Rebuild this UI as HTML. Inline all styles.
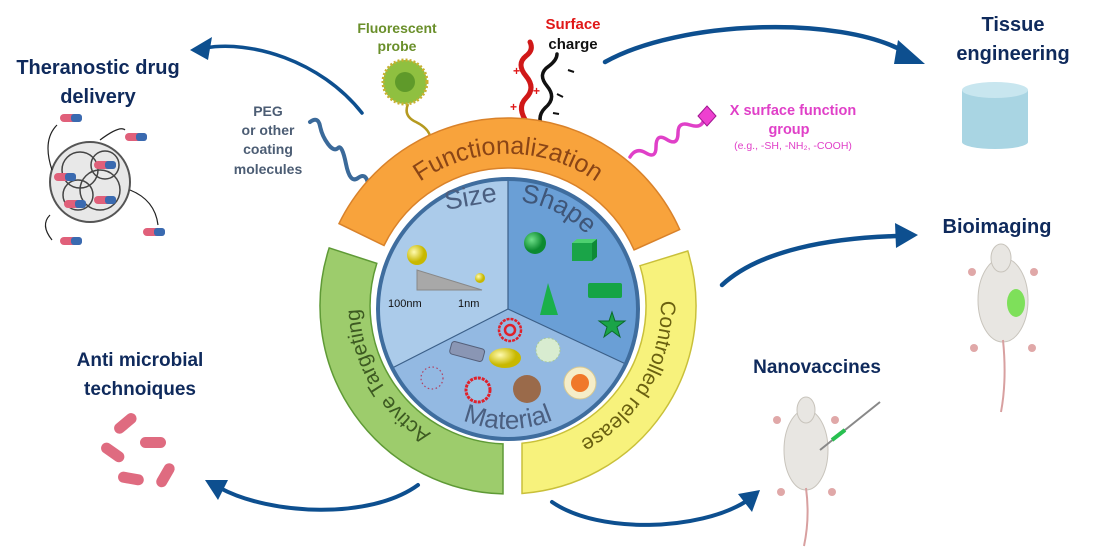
<!DOCTYPE html>
<html><head><meta charset="utf-8"><style>
html,body{margin:0;padding:0;background:#fff;}
svg{display:block;}
.lab{font-family:"Liberation Sans",sans-serif;font-weight:bold;fill:#0f2a5c;}
.com{font-family:"Liberation Sans",sans-serif;font-weight:bold;}
</style></head><body>
<svg width="1100" height="560" viewBox="0 0 1100 560" xmlns="http://www.w3.org/2000/svg">
<defs>
<path id="pF" d="M365.1,254 A152 152 0 0 1 650.9,254"/>
<path id="pA" d="M494.9,455.4 A153 153 0 0 1 372.1,242.6"/>
<path id="pC" d="M646.6,241.3 A153 153 0 0 1 521.3,458.4"/>
<path id="pS" d="M517.4,201.4 A108 108 0 0 1 615.6,318.4"/>
<path id="pM" d="M404.1,369 A120 120 0 0 0 611.9,369"/>
<radialGradient id="gy" cx="0.35" cy="0.35"><stop offset="0" stop-color="#fffbb0"/><stop offset="1" stop-color="#c8b800"/></radialGradient>
<radialGradient id="gg" cx="0.35" cy="0.35"><stop offset="0" stop-color="#6fe08a"/><stop offset="1" stop-color="#0c8a30"/></radialGradient>
</defs>

<!-- top molecules (behind ring) -->
<path d="M310,122 q8,-6 10,4 t8,18 t10,4 t8,16 t12,14 t10,6" fill="none" stroke="#3b6a9a" stroke-width="4" stroke-linecap="round"/>
<g transform="translate(0,12)">
<path d="M528,112 q-12,-16 -2,-26 q10,-10 0,-22 q-10,-12 0,-20 q8,-6 4,-14" fill="none" stroke="#d01818" stroke-width="5" stroke-linecap="round"/>
<g fill="#e01818" font-family="Liberation Sans,sans-serif" font-weight="bold" font-size="12"><text x="513" y="63">+</text><text x="533" y="83">+</text><text x="510" y="99">+</text></g>
</g>
<g transform="translate(0,8)">
<path d="M545,124 q-10,-14 0,-24 q12,-10 2,-22 q-10,-12 2,-20 q8,-6 8,-12" fill="none" stroke="#111" stroke-width="3.5" stroke-linecap="round"/>
<g stroke="#111" stroke-width="2"><line x1="568" y1="62" x2="574" y2="64"/><line x1="557" y1="86" x2="563" y2="89"/><line x1="553" y1="105" x2="559" y2="106"/></g>
</g>
<path d="M630,157 q6,-10 16,-4 q10,6 10,-6 q0,-14 10,-8 q12,8 12,-6 q0,-12 12,-8 q12,4 14,-6" fill="none" stroke="#e040c8" stroke-width="3.5" stroke-linecap="round"/>
<path d="M408,104 q-5,12 8,18 q12,6 14,14" fill="none" stroke="#b59a20" stroke-width="2.5"/>

<!-- ring arcs -->
<path d="M339,223.6 A188 188 0 0 1 679.7,229.5 L634.1,249.9 A138 138 0 0 0 384,245.5 Z" fill="#f8a33c" stroke="#d9822a" stroke-width="1.5"/>
<path d="M503,493.9 A188 188 0 0 1 329.2,247.9 L376.8,263.4 A138 138 0 0 0 503,443.9 Z" fill="#9dcc6c" stroke="#5f9a36" stroke-width="1.5"/>
<path d="M687.8,251 A188 188 0 0 1 522,493.5 L522,443.3 A138 138 0 0 0 640,265.7 Z" fill="#f7f27c" stroke="#c9c03a" stroke-width="1.5"/>
<text font-family="Liberation Sans,sans-serif" font-size="25" fill="#8a4516"><textPath href="#pF" startOffset="50%" text-anchor="middle">Functionalization</textPath></text>
<text font-family="Liberation Sans,sans-serif" font-size="21" fill="#3d5a22"><textPath href="#pA" startOffset="50%" text-anchor="middle">Active Targeting</textPath></text>
<text font-family="Liberation Sans,sans-serif" font-size="21" fill="#6a6010"><textPath href="#pC" startOffset="50%" text-anchor="middle">Controlled release</textPath></text>

<!-- inner circle -->
<circle cx="508" cy="309" r="133" fill="#fff"/>
<path d="M508,309 L392.2,368 A130 130 0 0 1 508,179 Z" fill="#abcbea"/>
<path d="M508,309 L508,179 A130 130 0 0 1 625.8,364 Z" fill="#6a9fd6"/>
<path d="M508,309 L625.8,364 A130 130 0 0 1 392.2,368 Z" fill="#93b9e2"/>
<g stroke="#3b5f88" stroke-width="1.2"><line x1="508" y1="309" x2="508" y2="179"/><line x1="508" y1="309" x2="392.2" y2="368"/><line x1="508" y1="309" x2="625.8" y2="364"/></g>
<circle cx="508" cy="309" r="130" fill="none" stroke="#3f6d9e" stroke-width="4"/>
<text x="446" y="210" transform="rotate(-10 446 210)" font-family="Liberation Sans,sans-serif" font-size="27" fill="#4b5f80">Size</text>
<text font-family="Liberation Sans,sans-serif" font-size="26" fill="#3f5678"><textPath href="#pS" startOffset="2%">Shape</textPath></text>
<text font-family="Liberation Sans,sans-serif" font-size="26" fill="#4b5f80"><textPath href="#pM" startOffset="50%" text-anchor="middle">Material</textPath></text>

<!-- size items -->
<circle cx="417" cy="255" r="10" fill="url(#gy)"/>
<polygon points="417,270 417,290 482,290" fill="#a8a8a8" stroke="#888"/>
<circle cx="480" cy="278" r="5" fill="url(#gy)"/>
<text x="388" y="307" font-family="Liberation Sans,sans-serif" font-size="11" fill="#111">100nm</text>
<text x="458" y="307" font-family="Liberation Sans,sans-serif" font-size="11" fill="#111">1nm</text>
<!-- shape items -->
<circle cx="535" cy="243" r="11" fill="url(#gg)"/>
<rect x="572" y="243" width="20" height="18" fill="#1aa448"/><polygon points="572,243 577,239 597,239 592,243" fill="#4dd070"/><polygon points="592,243 597,239 597,257 592,261" fill="#0e8a36"/>
<rect x="588" y="283" width="34" height="15" rx="2" fill="#15a445"/>
<polygon points="548,283 540,315 558,315" fill="#1ab04a"/>
<polygon points="612,312 615,321 625,321 617,327 620,337 612,331 604,337 607,327 599,321 609,321" fill="#1aa448" stroke="#0b6b2a"/>
<!-- material items -->
<circle cx="510" cy="330" r="11" fill="none" stroke="#e0202a" stroke-width="2.5" stroke-dasharray="3 1"/><circle cx="510" cy="330" r="5" fill="none" stroke="#e0202a" stroke-width="2.5"/>
<g transform="rotate(15 467 352)"><rect x="450" y="345" width="34" height="13" rx="3" fill="#8a96b4" stroke="#55607a"/></g>
<ellipse cx="505" cy="358" rx="16" ry="10" fill="url(#gy)"/>
<circle cx="548" cy="350" r="12" fill="#d8ecd0" stroke="#a8c898" stroke-dasharray="2 2"/>
<circle cx="432" cy="378" r="11" fill="none" stroke="#b04060" stroke-width="1.2" stroke-dasharray="1.5 2.5"/>
<circle cx="478" cy="390" r="12" fill="#9cc4e6" stroke="#e0202a" stroke-width="3" stroke-dasharray="3 1"/>
<circle cx="527" cy="389" r="14" fill="#9a6a4a"/>
<circle cx="580" cy="383" r="16" fill="#f5edc8" stroke="#d8c890"/><circle cx="580" cy="383" r="9" fill="#f0782a"/>

<!-- top labels -->
<text class="com" font-size="14" fill="#4c5d74" text-anchor="middle"><tspan x="268" y="116">PEG</tspan><tspan x="268" y="135">or other</tspan><tspan x="268" y="154">coating</tspan><tspan x="268" y="174">molecules</tspan></text>
<text class="com" font-size="14" fill="#6a8f2a" text-anchor="middle"><tspan x="397" y="33">Fluorescent</tspan><tspan x="397" y="51">probe</tspan></text>
<circle cx="405" cy="82" r="22" fill="#8fc040" stroke="#c8b030" stroke-width="3" stroke-dasharray="2 2"/>
<circle cx="405" cy="82" r="10" fill="#5f9a2a"/>
<text class="com" x="573" y="29" font-size="15" fill="#e01818" text-anchor="middle">Surface</text>
<text class="com" x="573" y="49" font-size="15" fill="#111" text-anchor="middle">charge</text>
<polygon points="707,106 716,116 707,126 698,116" fill="#ee40d0" stroke="#a01890"/>
<text class="com" font-size="14.5" fill="#e040c8" text-anchor="middle"><tspan x="793" y="115">X surface function</tspan><tspan x="789" y="134">group</tspan></text>
<text x="793" y="149" font-family="Liberation Sans,sans-serif" font-size="10.5" fill="#e040c8" text-anchor="middle">(e.g., -SH, -NH₂, -COOH)</text>

<!-- arrows -->
<g fill="none" stroke="#0d4f8f" stroke-linecap="round">
<path d="M362,113 C320,60 250,40 205,48" stroke-width="3.5"/>
<path d="M605,62 C680,20 840,15 905,52" stroke-width="4.5"/>
<path d="M722,285 C760,250 830,238 898,236" stroke-width="4.5"/>
<path d="M552,502 C600,535 700,530 745,502" stroke-width="4"/>
<path d="M418,485 C370,520 270,515 220,488" stroke-width="4"/>
</g>
<g fill="#0d4f8f">
<polygon points="190,50 212,37 208,60"/>
<polygon points="925,64 898,40 894,64"/>
<polygon points="918,235 895,223 896,248"/>
<polygon points="760,490 738,494 752,512"/>
<polygon points="205,480 228,480 218,500"/>
</g>

<!-- outer labels -->
<text class="lab" font-size="20" text-anchor="middle"><tspan x="98" y="74">Theranostic drug</tspan><tspan x="98" y="103">delivery</tspan></text>
<text class="lab" font-size="20" text-anchor="middle"><tspan x="1013" y="31">Tissue</tspan><tspan x="1013" y="60">engineering</tspan></text>
<text class="lab" x="997" y="233" font-size="20" text-anchor="middle">Bioimaging</text>
<text class="lab" x="817" y="373" font-size="19" text-anchor="middle">Nanovaccines</text>
<text class="lab" font-size="19" text-anchor="middle"><tspan x="140" y="366">Anti microbial</tspan><tspan x="140" y="395">technoiques</tspan></text>

<!-- drug ball -->
<circle cx="90" cy="182" r="40" fill="#e8e8e8" stroke="#555" stroke-width="2"/>
<g fill="none" stroke="#444" stroke-width="1.5"><circle cx="80" cy="170" r="18"/><circle cx="100" cy="190" r="20"/><circle cx="78" cy="195" r="15"/><circle cx="105" cy="165" r="14"/></g>
<g>
<rect x="60" y="114" width="22" height="8" rx="4" fill="#e0607a"/><rect x="71" y="114" width="11" height="8" rx="3" fill="#3a6ab0"/>
<rect x="125" y="133" width="22" height="8" rx="4" fill="#e0607a"/><rect x="136" y="133" width="11" height="8" rx="3" fill="#3a6ab0"/>
<rect x="94" y="161" width="22" height="8" rx="4" fill="#e0607a"/><rect x="105" y="161" width="11" height="8" rx="3" fill="#3a6ab0"/>
<rect x="54" y="173" width="22" height="8" rx="4" fill="#e0607a"/><rect x="65" y="173" width="11" height="8" rx="3" fill="#3a6ab0"/>
<rect x="64" y="200" width="22" height="8" rx="4" fill="#e0607a"/><rect x="75" y="200" width="11" height="8" rx="3" fill="#3a6ab0"/>
<rect x="94" y="196" width="22" height="8" rx="4" fill="#e0607a"/><rect x="105" y="196" width="11" height="8" rx="3" fill="#3a6ab0"/>
<rect x="143" y="228" width="22" height="8" rx="4" fill="#e0607a"/><rect x="154" y="228" width="11" height="8" rx="3" fill="#3a6ab0"/>
<rect x="60" y="237" width="22" height="8" rx="4" fill="#e0607a"/><rect x="71" y="237" width="11" height="8" rx="3" fill="#3a6ab0"/>
</g>
<g fill="none" stroke="#222" stroke-width="1.2"><path d="M52,170 q-10,-30 5,-45"/><path d="M100,140 q20,-15 25,-10"/><path d="M130,190 q25,10 28,35"/><path d="M50,215 q-10,10 2,25"/></g>

<!-- tissue cylinder -->
<rect x="962" y="90" width="66" height="52" fill="#a9d5e3"/>
<ellipse cx="995" cy="90" rx="33" ry="8" fill="#c8e6ef"/>
<ellipse cx="995" cy="142" rx="33" ry="7" fill="#a9d5e3"/>

<!-- bioimaging mouse -->
<ellipse cx="1003" cy="300" rx="25" ry="42" fill="#e8e6e2" stroke="#c8c4bc"/>
<ellipse cx="1001" cy="258" rx="10" ry="14" fill="#e8e6e2" stroke="#c8c4bc"/>
<ellipse cx="1016" cy="303" rx="9" ry="14" fill="#7ee05a"/>
<path d="M1003,340 q4,40 -2,72" fill="none" stroke="#d8a0a0" stroke-width="2"/>
<g fill="#e0a8a8"><circle cx="972" cy="272" r="4"/><circle cx="1034" cy="272" r="4"/><circle cx="974" cy="348" r="4"/><circle cx="1032" cy="348" r="4"/></g>

<!-- nanovaccine mouse -->
<ellipse cx="806" cy="450" rx="22" ry="40" fill="#e8e6e2" stroke="#c8c4bc"/>
<ellipse cx="806" cy="410" rx="9" ry="13" fill="#e8e6e2" stroke="#c8c4bc"/>
<path d="M806,488 q4,30 -2,58" fill="none" stroke="#d8a0a0" stroke-width="2"/>
<g fill="#e0a8a8"><circle cx="777" cy="420" r="4"/><circle cx="835" cy="420" r="4"/><circle cx="781" cy="492" r="4"/><circle cx="832" cy="492" r="4"/></g>
<line x1="820" y1="450" x2="880" y2="402" stroke="#888" stroke-width="2"/>
<line x1="832" y1="440" x2="845" y2="430" stroke="#28c050" stroke-width="4"/>

<!-- bacteria -->
<g fill="#df6b80">
<rect x="112" y="418" width="26" height="11" rx="5.5" transform="rotate(-40 125 423)"/>
<rect x="140" y="437" width="26" height="11" rx="5.5"/>
<rect x="100" y="447" width="26" height="11" rx="5.5" transform="rotate(35 113 452)"/>
<rect x="118" y="473" width="26" height="11" rx="5.5" transform="rotate(10 131 478)"/>
<rect x="152" y="470" width="26" height="11" rx="5.5" transform="rotate(-60 165 475)"/>
</g>
</svg>
</body></html>
